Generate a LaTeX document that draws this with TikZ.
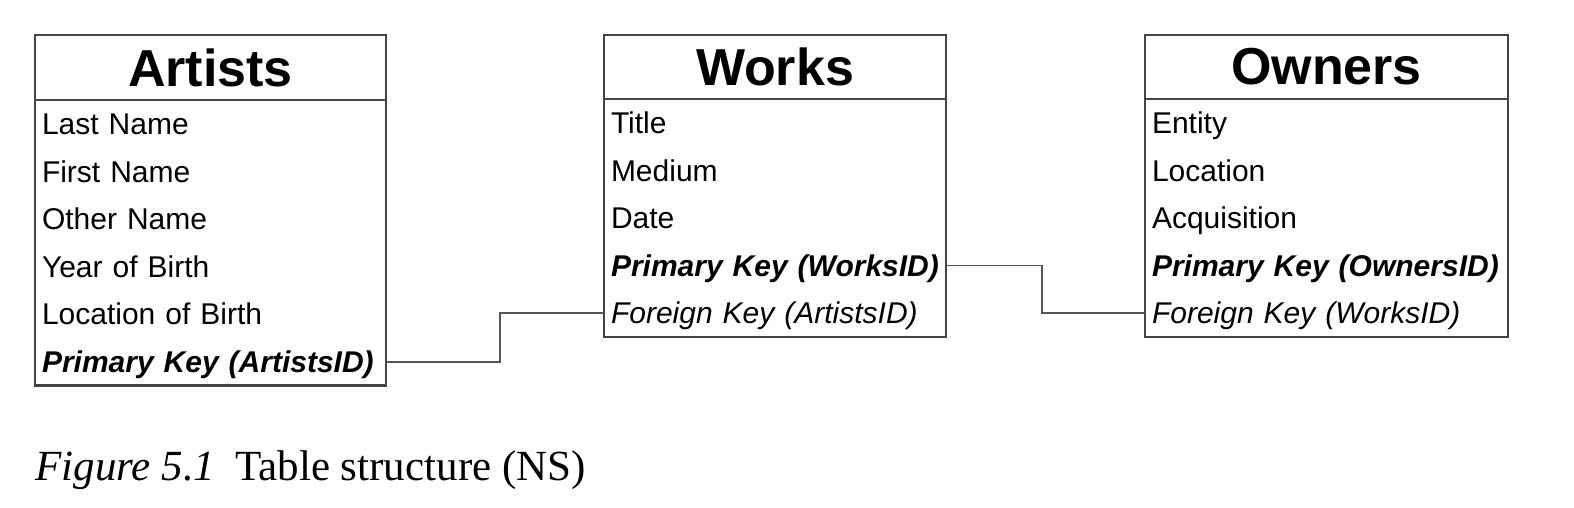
\documentclass[tikz,border=0pt]{standalone}
\usepackage{fontspec}
\usepackage{tikz}
\usetikzlibrary{positioning, fit}
\usepackage{xcolor}
\newfontfamily\tabfont{Liberation Sans}
\newfontfamily\capfont{Liberation Serif}
\definecolor{boxgray}{HTML}{454545}
\definecolor{linkgray}{HTML}{555555}

\begin{document}
\begin{tikzpicture}[
  x=0.5pt, y=-0.5pt,
  tablehead/.style={draw=boxgray, line width=1.2pt, anchor=north west,
                    inner sep=0pt, outer sep=0pt,
                    font=\tabfont\fontsize{26}{30}\selectfont\bfseries},
  tablebody/.style={draw=boxgray, line width=1.2pt, inner sep=0pt},
  field/.style={font=\tabfont\fontsize{15}{18}\selectfont, text width=#1,
                align=left, inner xsep=3.5pt, inner ysep=0pt, outer sep=0pt,
                minimum height=23.8pt, text height=10.7pt, text depth=0pt},
  keyname/.style={font=\tabfont\fontsize{15}{18}\selectfont\bfseries\itshape},
  fkname/.style={font=\tabfont\fontsize{15}{18}\selectfont\itshape},
  link/.style={draw=linkgray, line width=0.8pt},
]
  \useasboundingbox (0,0) rectangle (1574,508);
  % Artists table
  \node[tablehead, minimum width=175.5pt, minimum height=32.5pt] (arthead)
    at (35,35) {Artists};
  \node[field=168.5pt, below=0pt of arthead] (art1) {Last Name};
  \node[field=168.5pt, below=0pt of art1] (art2) {First Name};
  \node[field=168.5pt, below=0pt of art2] (art3) {Other Name};
  \node[field=168.5pt, below=0pt of art3] (art4) {Year of Birth};
  \node[field=168.5pt, below=0pt of art4] (art5) {Location of Birth};
  \node[field=168.5pt, keyname, below=0pt of art5] (artpk) {Primary Key (ArtistsID)};
  \node[tablebody, fit=(art1)(artpk)] (artbody) {};
  % Works table
  \node[tablehead, minimum width=171pt, minimum height=32pt] (workhead)
    at (604,35) {Works};
  \node[field=164pt, below=0pt of workhead] (work1) {Title};
  \node[field=164pt, below=0pt of work1] (work2) {Medium};
  \node[field=164pt, below=0pt of work2] (work3) {Date};
  \node[field=164pt, keyname, below=0pt of work3] (workpk) {Primary Key (WorksID)};
  \node[field=164pt, fkname, below=0pt of workpk] (workfk) {Foreign Key (ArtistsID)};
  \node[tablebody, fit=(work1)(workfk)] (workbody) {};
  % Owners table
  \node[tablehead, minimum width=181.5pt, minimum height=32pt] (ownhead)
    at (1145,35) {Owners};
  \node[field=174.5pt, below=0pt of ownhead] (own1) {Entity};
  \node[field=174.5pt, below=0pt of own1] (own2) {Location};
  \node[field=174.5pt, below=0pt of own2] (own3) {Acquisition};
  \node[field=174.5pt, keyname, below=0pt of own3] (ownpk) {Primary Key (OwnersID)};
  \node[field=174.5pt, fkname, below=0pt of ownpk] (ownfk) {Foreign Key (WorksID)};
  \node[tablebody, fit=(own1)(ownfk)] (ownbody) {};
  % Links
  \draw[link] (artpk.east) -- ++(114,0) |- (workfk.west);
  \draw[link] (workpk.east) -- ++(96,0) |- (ownfk.west);
  % Caption
  \node[anchor=base west, inner sep=0pt, font=\capfont\fontsize{21.5}{25}\selectfont]
    (caption) at (35,480) {\textit{Figure 5.1}\hspace{10pt}Table structure (NS)};
\end{tikzpicture}
\end{document}
